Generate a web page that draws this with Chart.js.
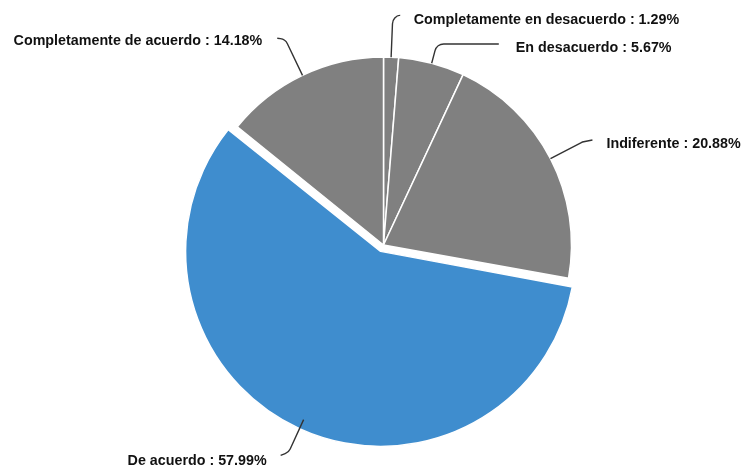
<!DOCTYPE html>
<html>
<head>
<meta charset="utf-8">
<script src="https://cdn.jsdelivr.net/npm/chart.js@4"></script>
<style>
  html, body { margin: 0; padding: 0; background: #fff; }
  #wrap { width: 743px; height: 466px; }
</style>
</head>
<body>
<div id="wrap"><canvas id="pieChart" width="743" height="466"></canvas></div>
<script>
// Survey answers, clockwise from 12 o'clock
const categories = [
    'Completamente en desacuerdo',
    'En desacuerdo',
    'Indiferente',
    'De acuerdo',
    'Completamente de acuerdo'
];
const percentages = [1.29, 5.67, 20.88, 57.99, 14.18];
const sliceColors = ['#808080', '#808080', '#808080', '#3f8dce', '#808080'];
const sliceOffsets = [0, 0, 0, 28, 0];

// Leader line shape for each label: how far past the rim the elbow sits,
// the short run after the elbow, and where the text goes
const leaderStyle = [
    { inset: 0,   ext: 41, run: 7,   rise: -1, gap: 14, textDy: 5 },
    { inset: 0,   ext: 20, run: 62,  rise: 0,  gap: 17, textDy: 4 },
    { inset: 0,   ext: 36, run: 10,  rise: -2, gap: 14, textDy: 4 },
    { inset: -10, ext: 26, run: -8,  rise: 3,  gap: 14, textDy: 6 },
    { inset: 0,   ext: 40, run: -8,  rise: -1, gap: 15, textDy: 3 }
];

const outsideLabels = {
    id: 'outsideLabels',
    afterDatasetsDraw(chart) {
        const ctx = chart.ctx;
        const meta = chart.getDatasetMeta(0);
        ctx.save();
        meta.data.forEach(function (arc, i) {
            const p = arc.getProps(['x', 'y', 'startAngle', 'endAngle', 'outerRadius', 'circumference'], true);
            const mid = (p.startAngle + p.endAngle) / 2;
            // same shift the arc element applies when it is pulled out
            const off = (arc.options.offset || 0) / 4;
            const fix = 1 - Math.sin(Math.min(Math.PI, p.circumference || 0));
            const shift = off + off * fix;
            const cx = p.x + Math.cos(mid) * shift;
            const cy = p.y + Math.sin(mid) * shift;
            const dx = Math.cos(mid), dy = Math.sin(mid);
            const s = leaderStyle[i];

            const x0 = cx + dx * (p.outerRadius + s.inset);
            const y0 = cy + dy * (p.outerRadius + s.inset);
            const x1 = cx + dx * (p.outerRadius + s.ext);
            const y1 = cy + dy * (p.outerRadius + s.ext);
            const x2 = x1 + s.run;
            const y2 = y1 + s.rise;

            ctx.beginPath();
            ctx.moveTo(x0, y0);
            ctx.arcTo(x1, y1, x2, y2, 9);
            ctx.lineTo(x2, y2);
            ctx.strokeStyle = '#333333';
            ctx.lineWidth = 1.4;
            ctx.stroke();

            const text = categories[i] + ' : ' + percentages[i].toFixed(2) + '%';
            ctx.font = 'bold 14.3px "Liberation Sans", Arial, sans-serif';
            ctx.fillStyle = '#111111';
            ctx.textBaseline = 'middle';
            if (s.run >= 0) {
                ctx.textAlign = 'left';
                ctx.fillText(text, x2 + s.gap, y2 + s.textDy);
            } else {
                ctx.textAlign = 'right';
                ctx.fillText(text, x2 - s.gap, y2 + s.textDy);
            }
        });
        ctx.restore();
    }
};

new Chart(document.getElementById('pieChart'), {
    type: 'pie',
    data: {
        labels: categories,
        datasets: [{
            data: percentages,
            backgroundColor: sliceColors,
            borderColor: '#ffffff',
            borderWidth: 1.5,
            offset: sliceOffsets,
            hoverOffset: 0
        }]
    },
    options: {
        responsive: false,
        animation: false,
        radius: 188,
        layout: { padding: { left: 24, top: 24, right: 0, bottom: 0 } },
        plugins: {
            legend: { display: false },
            tooltip: { enabled: false }
        }
    },
    plugins: [outsideLabels]
});
</script>
</body>
</html>
